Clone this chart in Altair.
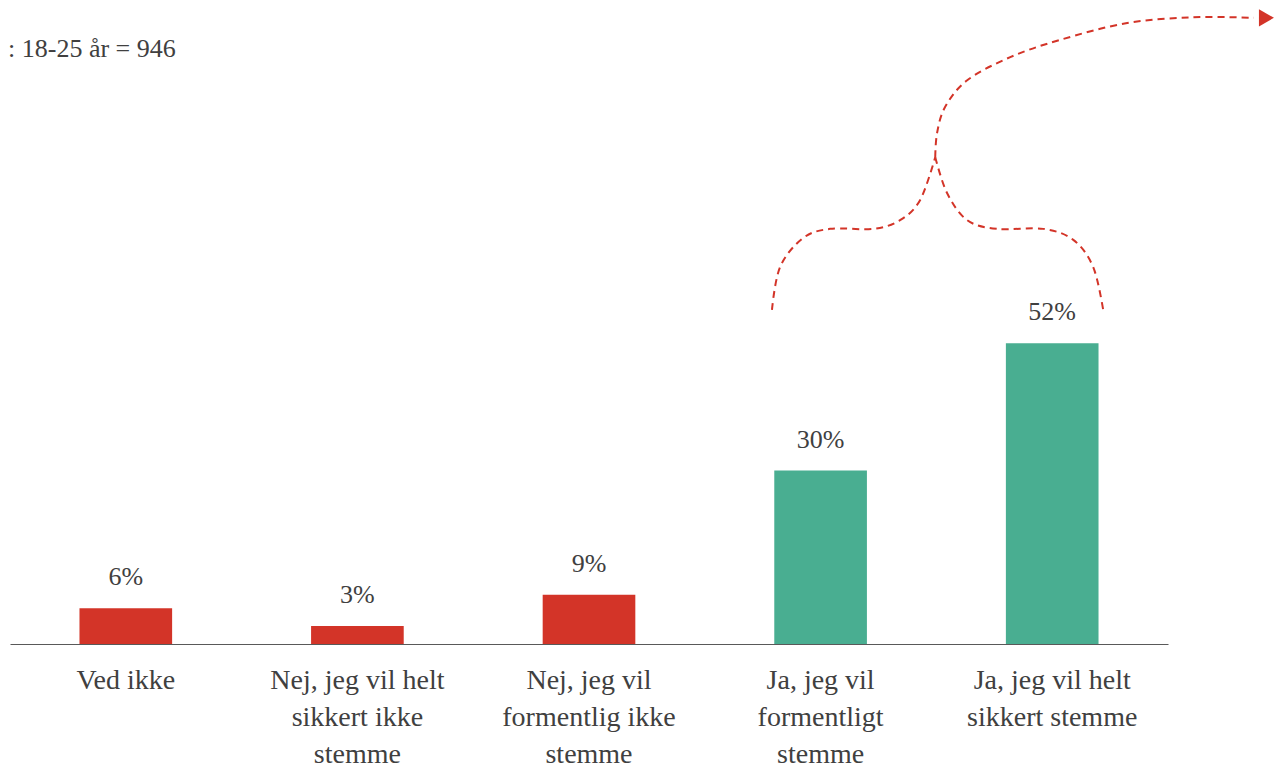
import altair as alt
import pandas as pd

# ---- data ----
categories = [
    "Ved ikke",
    "Nej, jeg vil helt\nsikkert ikke\nstemme",
    "Nej, jeg vil\nformentlig ikke\nstemme",
    "Ja, jeg vil\nformentligt\nstemme",
    "Ja, jeg vil helt\nsikkert stemme",
]
values = [6.2, 3.1, 8.5, 30, 52]
value_labels = ["6%", "3%", "9%", "30%", "52%"]
groups = ["nej", "nej", "nej", "ja", "ja"]

base_note = [": 18-25 år = 946"]

# dashed brace annotation, in category units (x) and percent units (y)
brace_branch = ["left"] * 8 + ["right"] * 8 + ["stem"] * 9
brace_x = [2.790, 2.825, 2.924, 3.041, 3.227, 3.343, 3.430, 3.495,
           3.495, 3.546, 3.633, 3.762, 3.961, 4.091, 4.177, 4.220,
           3.495, 3.503, 3.538, 3.633, 3.819, 4.035, 4.324, 4.609, 4.870]
brace_y = [57.8, 65.2, 70.2, 71.8, 71.8, 73.3, 76.8, 84.2,
           84.2, 78.0, 73.3, 71.8, 71.8, 69.9, 65.2, 57.8,
           84.2, 88.4, 92.9, 97.5, 101.5, 104.5, 107.4, 108.4, 108.3]
arrow_x = [4.925]
arrow_y = [108.3]

RED = "#D33428"
GREEN = "#49AE91"
TEXT = "#404040"
FONT = "Liberation Serif"

bars_df = pd.DataFrame({"cat": categories, "value": values,
                        "label": value_labels, "group": groups})
brace_df = pd.DataFrame({"branch": brace_branch, "bx": brace_x, "by": brace_y,
                         "i": list(range(len(brace_x)))})
arrow_df = pd.DataFrame({"ax": arrow_x, "ay": arrow_y})
note_df = pd.DataFrame({"note": base_note})

yscale = alt.Scale(domain=[0, 110], nice=False, zero=True)
xband = alt.X("cat:N", sort=None, title=None,
              scale=alt.Scale(paddingInner=0.6, paddingOuter=0.3),
              axis=alt.Axis(labelExpr="split(datum.label, '\\n')",
                            labelAngle=0, labelFont=FONT, labelFontSize=28,
                            labelColor=TEXT, labelLineHeight=37,
                            labelPadding=22, labelBaseline="top",
                            ticks=False, tickSize=0, domainColor="#595959",
                            domainWidth=1.2, grid=False))

hidden_x = alt.Axis(labels=False, domain=False, ticks=False, grid=False,
                    title=None, orient="top")
hidden_y = alt.Axis(labels=False, domain=False, ticks=False, grid=False,
                    title=None)

bars = alt.Chart(bars_df).mark_bar().encode(
    x=xband,
    y=alt.Y("value:Q", scale=yscale, axis=hidden_y),
    color=alt.Color("group:N", scale=alt.Scale(domain=["nej", "ja"], range=[RED, GREEN]),
                    legend=None),
)

labels = alt.Chart(bars_df).mark_text(
    font=FONT, fontSize=26, color=TEXT, baseline="alphabetic", dy=-23
).encode(
    x=alt.X("cat:N", sort=None),
    y=alt.Y("value:Q", scale=yscale),
    text="label:N",
)

note = alt.Chart(note_df).mark_text(
    font=FONT, fontSize=26, color=TEXT, align="left", baseline="middle"
).encode(
    x=alt.value(-2), y=alt.value(41), text="note:N"
)

bx_scale = alt.Scale(domain=[-0.5, 4.5], nice=False, zero=False)

brace = alt.Chart(brace_df).mark_line(
    color=RED, strokeWidth=2, strokeDash=[7, 5], interpolate="cardinal"
).encode(
    x=alt.X("bx:Q", scale=bx_scale, axis=hidden_x),
    y=alt.Y("by:Q", scale=yscale),
    detail="branch:N",
    order="i:Q",
)

arrow = alt.Chart(arrow_df).mark_point(
    shape="triangle-right", filled=True, color=RED, size=300, opacity=1
).encode(
    x=alt.X("ax:Q", scale=bx_scale),
    y=alt.Y("ay:Q", scale=yscale),
)

main = alt.layer(bars, labels, note)
annot = alt.layer(brace, arrow)

chart = alt.layer(main, annot).resolve_scale(
    x="independent"
).properties(
    width=1158, height=636,
    autosize=alt.AutoSizeParams(type="none"),
    padding={"left": 2, "top": 0, "right": 110, "bottom": 123},
    background="white",
).configure_view(stroke=None)

chart.save("out.html", embed_options={"renderer": "svg", "actions": False})
